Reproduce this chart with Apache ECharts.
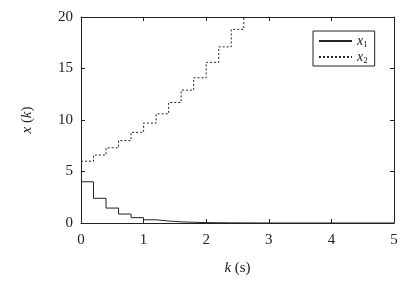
<!DOCTYPE html>
<html><head><meta charset="utf-8">
<script src="https://cdn.jsdelivr.net/npm/echarts@6/dist/echarts.min.js"></script>
<style>html,body{margin:0;padding:0;background:#fff}#c{width:418px;height:284px}</style>
</head><body><div id="c"></div>
<script>
var times = [0,0.2,0.4,0.6,0.8,1.0,1.2,1.4,1.6,1.8,2.0,2.2,2.4,2.6,2.8,3.0,3.2,3.4,3.6,3.8,4.0,4.2,4.4,4.6,4.8,5.0];
var x1Values = [4,2.4,1.45,0.87,0.52,0.31,0.19,0.11,0.07,0.04,0.025,0.015,0.01,0.005,0,0,0,0,0,0,0,0,0,0,0,0];
var x2Times = [0,0.2,0.4,0.6,0.8,1.0,1.2,1.4,1.6,1.8,2.0,2.2,2.4,2.6];
var x2Values = [6,6.6,7.3,8.0,8.8,9.7,10.6,11.7,12.9,14.1,15.6,17.1,18.8,20.7];
var xTicks = [0,1,2,3,4,5];
var yTicks = [0,5,10,15,20];

function pairs(t, v){ return t.map(function(x,i){return [x, v[i]];}); }
var font = "'Liberation Serif', 'Times New Roman', serif";
var chart = echarts.init(document.getElementById('c'));
var axisLine = {show:true, onZero:false, lineStyle:{color:'#222', width:1}};
var tick = {show:true, inside:true, length:4, lineStyle:{color:'#222'}};
var ital = {fontFamily:font, fontStyle:'italic', fontSize:15, color:'#222'};
var italL = {fontFamily:font, fontStyle:'italic', fontSize:14, color:'#222'};
chart.setOption({
  animation:false,
  grid:{left:81, right:24, top:17, bottom:61},
  legend:{
    show:true, orient:'vertical', left:313, top:31,
    borderColor:'#222', borderWidth:1, borderRadius:0,
    padding:[3,7,1,5], itemGap:1, itemWidth:33, itemHeight:10,
    itemStyle:{opacity:0},
    textStyle:{fontFamily:font, fontSize:14, color:'#222',
      rich:{i:italL, s:{fontFamily:font, fontSize:9, color:'#222', padding:[7,0,0,0]}}},
    formatter:function(n){ return '{i|x}{s|' + n.slice(1) + '}'; },
    data:['x1','x2']
  },
  xAxis:[{type:'value', min:0, max:5, interval:1, position:'bottom',
    axisLine:axisLine, axisTick:tick, splitLine:{show:false},
    axisLabel:{fontFamily:font, fontSize:15, color:'#222', margin:10},
    name:'{i|k} (s)', nameLocation:'middle', nameGap:38,
    nameTextStyle:{fontFamily:font, fontSize:15, color:'#222', rich:{i:ital}}
  },{type:'value', min:0, max:5, interval:1, position:'top',
    axisLine:axisLine, axisTick:tick, axisLabel:{show:false}, splitLine:{show:false}}],
  yAxis:[{type:'value', min:0, max:20, interval:5, position:'left',
    axisLine:axisLine, axisTick:tick, splitLine:{show:false},
    axisLabel:{fontFamily:font, fontSize:15, color:'#222', margin:8},
    name:'{i|x} ({i|k})', nameLocation:'middle', nameGap:46, nameRotate:90,
    nameTextStyle:{fontFamily:font, fontSize:15, color:'#222', rich:{i:ital}}
  },{type:'value', min:0, max:20, interval:5, position:'right',
    axisLine:axisLine, axisTick:tick, axisLabel:{show:false}, splitLine:{show:false}}],
  series:[
    {name:'x1', type:'line', step:'end', showSymbol:false, symbol:'none', clip:true,
     lineStyle:{color:'#222', width:1}, itemStyle:{color:'#222'}, data:pairs(times, x1Values)},
    {name:'x2', type:'line', step:'end', showSymbol:false, symbol:'none', clip:true,
     lineStyle:{color:'#222', width:1, type:[2,2]}, itemStyle:{color:'#222'}, data:pairs(x2Times, x2Values)}
  ]
});
</script></body></html>
